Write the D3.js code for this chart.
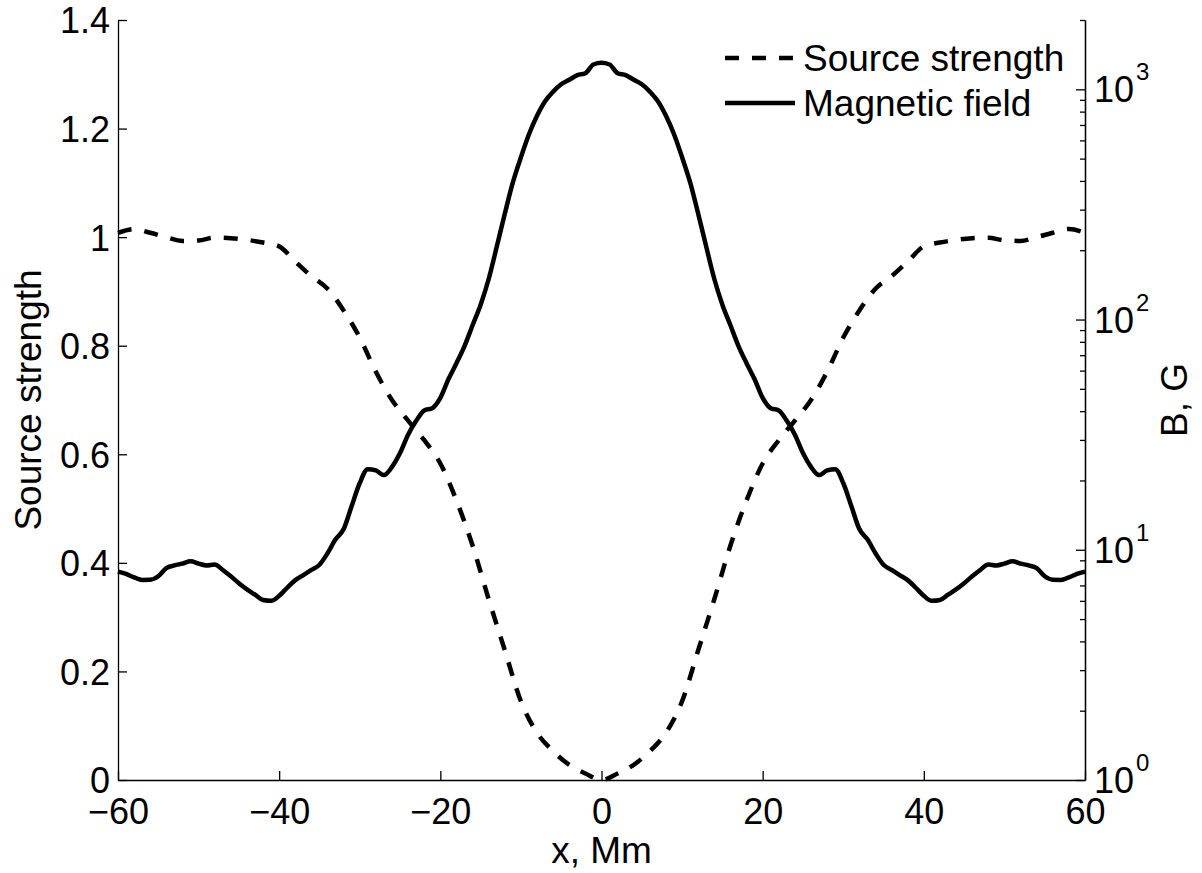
<!DOCTYPE html>
<html>
<head>
<meta charset="utf-8">
<script src="https://cdn.jsdelivr.net/npm/d3@7"></script>
<style>
    body { margin: 0; background: #fff; }
    text { font-family: "Liberation Sans", Arial, sans-serif; fill: #000; }
</style>
</head>
<body>
<script>
// x positions (Mm)
const sourceX = [-60, -58, -56, -54, -52, -50, -48, -46, -44, -42, -40, -38, -36, -34, -32, -30,
    -28, -26, -24, -22, -20, -18, -16, -14, -12, -10, -8, -6, -4, -2, 0,
    2, 4, 6, 8, 10, 12, 14, 16, 18, 20, 22, 24, 26, 28, 30,
    32, 34, 36, 38, 40, 42, 44, 46, 48, 50, 52, 54, 56, 58, 60]

const sourceStrength = [1.008, 1.015, 1.008, 1.000, 0.993, 0.994, 0.999, 0.998, 0.995, 0.990, 0.983, 0.955, 0.928, 0.905, 0.865, 0.815,
    0.752, 0.700, 0.662, 0.626, 0.583, 0.515, 0.432, 0.333, 0.239, 0.145, 0.087, 0.053, 0.028, 0.012, 0.000,
    0.012, 0.028, 0.053, 0.087, 0.145, 0.239, 0.333, 0.432, 0.515, 0.583, 0.626, 0.662, 0.700, 0.752, 0.815,
    0.865, 0.905, 0.928, 0.955, 0.983, 0.990, 0.995, 0.998, 0.999, 0.994, 0.993, 1.000, 1.008, 1.015, 1.008]

const fieldX = d3.range(-60, 61, 1)

// B in gauss, one value per Mm
const magneticField = [8.04, 7.85, 7.59, 7.40, 7.41, 7.67, 8.32, 8.55, 8.71, 8.91,
    8.71, 8.55, 8.63, 8.17, 7.67, 7.16, 6.73, 6.38, 6.05, 6.00,
    6.31, 6.84, 7.38, 7.76, 8.17, 8.61, 9.66, 11.1, 12.3, 15.5,
    19.5, 22.4, 22.1, 21.1, 22.9, 26.3, 31.6, 36.3, 40.3, 41.2,
    45.7, 55.0, 64.6, 76.7, 94.4, 116, 150, 207, 288, 394,
    507, 638, 767, 887, 977, 1052, 1100, 1153, 1175, 1282,
    1303,
    1282, 1175, 1153, 1100, 1052, 977, 887, 767, 638, 507,
    394, 288, 207, 150, 116, 94.4, 76.7, 64.6, 55.0, 45.7,
    41.2, 40.3, 36.3, 31.6, 26.3, 22.9, 21.1, 22.1, 22.4, 19.5,
    15.5, 12.3, 11.1, 9.66, 8.61, 8.17, 7.76, 7.38, 6.84, 6.31,
    6.00, 6.05, 6.38, 6.73, 7.16, 7.67, 8.17, 8.63, 8.55, 8.71,
    8.91, 8.71, 8.55, 8.32, 7.67, 7.41, 7.40, 7.59, 7.85, 8.04]

const xTicks = [-60, -40, -20, 0, 20, 40, 60]
const leftTicks = [0, 0.2, 0.4, 0.6, 0.8, 1, 1.2, 1.4]
const rightTicks = [1, 10, 100, 1000]
const rightExponents = ["0", "1", "2", "3"]
const legendLabels = ["Source strength", "Magnetic field"]

const WIDTH = 1202
const HEIGHT = 873

const PADDING = {
    left: 118,
    right: 117,
    top: 20,
    bottom: 93
}

const FONT = 36
const LABEL_FONT = 37
const DASH = "14,13"
const LINE_W = 4.5

const svg = d3.select("body")
    .append("svg")
    .attr("width", WIDTH)
    .attr("height", HEIGHT)

const xScale = d3.scaleLinear()
    .domain([-60, 60])
    .range([PADDING.left, WIDTH - PADDING.right])

const yLeft = d3.scaleLinear()
    .domain([0, 1.4])
    .range([HEIGHT - PADDING.bottom, PADDING.top])

const yRight = d3.scaleLog()
    .domain([1, 2000])
    .range([HEIGHT - PADDING.bottom, PADDING.top])

// lines
const sourceLine = d3.line()
    .x((d, i) => xScale(sourceX[i]))
    .y(d => yLeft(d))
    .curve(d3.curveMonotoneX)

const fieldLine = d3.line()
    .x((d, i) => xScale(fieldX[i]))
    .y(d => yRight(d))
    .curve(d3.curveMonotoneX)

svg.append("path")
    .datum(sourceStrength)
    .attr("d", sourceLine)
    .attr("fill", "none")
    .attr("stroke", "#000")
    .attr("stroke-width", LINE_W)
    .attr("stroke-dasharray", DASH)

svg.append("path")
    .datum(magneticField)
    .attr("d", fieldLine)
    .attr("fill", "none")
    .attr("stroke", "#000")
    .attr("stroke-width", LINE_W)
    .attr("stroke-linejoin", "round")

// axes
const styleAxis = g => {
    g.selectAll("path, line").attr("stroke", "#000").attr("stroke-width", 1.3)
    g.selectAll("text").style("font-size", FONT + "px").attr("fill", "#000")
}

svg.append("g")
    .attr("transform", "translate(0," + (HEIGHT - PADDING.bottom) + ")")
    .call(d3.axisBottom(xScale).tickValues(xTicks).tickSizeInner(-9).tickSizeOuter(0).tickPadding(18))
    .call(styleAxis)

svg.append("g")
    .attr("transform", "translate(" + PADDING.left + ",0)")
    .call(d3.axisLeft(yLeft).tickValues(leftTicks).tickSizeInner(-9).tickSizeOuter(0).tickPadding(8)
        .tickFormat(d3.format("~g")))
    .call(styleAxis)
    .selectAll("text").attr("dy", "0.36em")

const rightG = svg.append("g")
    .attr("transform", "translate(" + (WIDTH - PADDING.right) + ",0)")

rightG.call(d3.axisRight(yRight).tickValues(yRight.ticks().filter(t => !rightTicks.includes(t)))
        .tickSizeInner(-5).tickSizeOuter(0).tickFormat(""))
    .call(styleAxis)

rightG.append("g")
    .call(d3.axisRight(yRight).tickValues(rightTicks).tickSizeInner(-9).tickSizeOuter(0).tickFormat(""))
    .call(styleAxis)

const expLabel = rightG.selectAll(".exp")
    .data(rightTicks)
    .enter()
    .append("text")
    .attr("class", "exp")
    .attr("x", 9)
    .attr("y", d => yRight(d) + 13)
    .style("font-size", FONT + "px")

expLabel.append("tspan").text("10")
expLabel.append("tspan")
    .attr("dx", 2)
    .attr("dy", -22)
    .style("font-size", "24px")
    .text((d, i) => rightExponents[i])

// axis titles
svg.append("text")
    .attr("transform", "translate(41," + (HEIGHT - PADDING.bottom + PADDING.top) / 2 + ") rotate(-90)")
    .attr("text-anchor", "middle")
    .style("font-size", LABEL_FONT + "px")
    .text("Source strength")

svg.append("text")
    .attr("transform", "translate(1187," + (HEIGHT - PADDING.bottom + PADDING.top) / 2 + ") rotate(-90)")
    .attr("text-anchor", "middle")
    .style("font-size", LABEL_FONT + "px")
    .text("B, G")

svg.append("text")
    .attr("x", xScale(0))
    .attr("y", 863)
    .attr("text-anchor", "middle")
    .style("font-size", LABEL_FONT + "px")
    .text("x, Mm")

// legend
const legend = svg.append("g")
    .attr("transform", "translate(725, 58)")

legend.selectAll("line")
    .data(legendLabels)
    .enter()
    .append("line")
    .attr("x1", 0)
    .attr("x2", 70)
    .attr("y1", (d, i) => i * 45)
    .attr("y2", (d, i) => i * 45)
    .attr("stroke", "#000")
    .attr("stroke-width", LINE_W)
    .attr("stroke-dasharray", (d, i) => i === 0 ? DASH : null)

legend.selectAll("text")
    .data(legendLabels)
    .enter()
    .append("text")
    .attr("x", 78)
    .attr("y", (d, i) => i * 45 + 13)
    .style("font-size", LABEL_FONT + "px")
    .text(d => d)
</script>
</body>
</html>
